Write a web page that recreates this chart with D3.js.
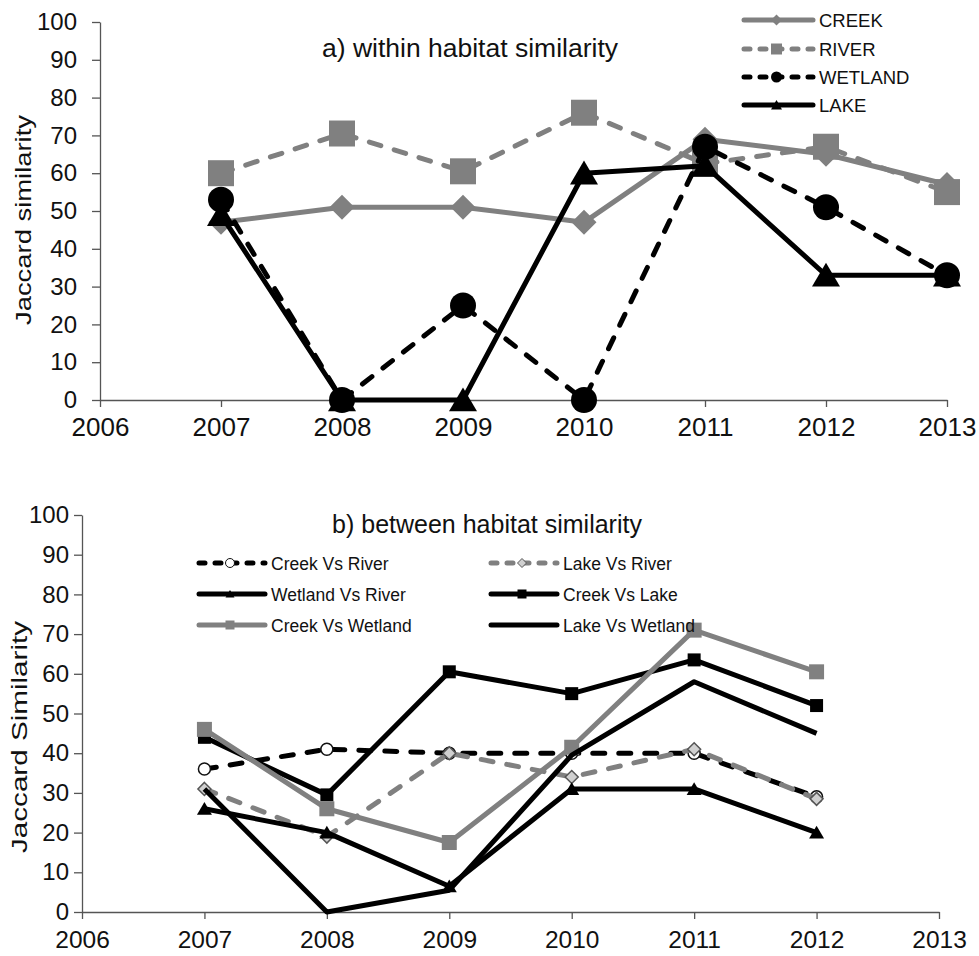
<!DOCTYPE html>
<html><head><meta charset="utf-8">
<script src="https://cdn.jsdelivr.net/npm/d3@7"></script>
<style>body{margin:0;background:#fff}svg{display:block}text{font-family:"Liberation Sans",Arial,sans-serif}</style>
</head><body><svg id="c" width="979" height="956"></svg>
<script>
// ---- data ----
const xTicks = [2006, 2007, 2008, 2009, 2010, 2011, 2012, 2013];
const yTicks = [0, 10, 20, 30, 40, 50, 60, 70, 80, 90, 100];
const yearsA = [2007, 2008, 2009, 2010, 2011, 2012, 2013];
const creek   = [47, 51, 51, 47, 69, 65, 57];
const river   = [60, 70.5, 60.5, 76, 62.5, 67, 55];
const wetland = [53, 0, 25, 0, 67, 51, 33];
const lake    = [49, 0, 0, 60, 62, 33, 33];
const yearsB = [2007, 2008, 2009, 2010, 2011, 2012];
const creekVsRiver    = [36, 41, 40, 40, 40, 29];
const lakeVsRiver     = [31, 19, 40, 34, 41, 28.5];
const wetlandVsRiver  = [26, 20, 6.5, 31, 31, 20];
const creekVsLake     = [44, 29.5, 60.5, 55, 63.5, 52];
const creekVsWetland  = [46, 26, 17.5, 41.5, 71, 60.5];
const lakeVsWetland   = [31, 0, 5.5, 39.5, 58, 45];
const titleA = "a) within habitat similarity";
const titleB = "b) between habitat similarity";
const yLabelA = "Jaccard similarity";
const yLabelB = "Jaccard Similarity";

const GRAY = "#808080", BLACK = "#000";
const svg = d3.select("#c");

function markerPath(kind, s) {
  const h = s / 2;
  if (kind === "diamond") return `M0,${-h}L${h},0L0,${h}L${-h},0Z`;
  if (kind === "square") return `M${-h},${-h}H${h}V${h}H${-h}Z`;
  if (kind === "triangle") return `M0,${-h*0.9}L${h},${h*0.8}L${-h},${h*0.8}Z`;
  if (kind === "circle") return d3.symbol(d3.symbolCircle, Math.PI * h * h)();
  return "";
}

function drawPanel(cfg) {
  const x = d3.scaleLinear().domain([2006, 2013]).range(cfg.xr);
  const y = d3.scaleLinear().domain([0, 100]).range(cfg.yr);
  const g = svg.append("g");
  // axes
  const ax = g.append("g").attr("transform", `translate(${cfg.xr[0]},0)`)
    .call(d3.axisLeft(y).tickValues(yTicks).tickSize(8).tickPadding(cfg.yPad).tickSizeOuter(0));
  const bx = g.append("g").attr("transform", `translate(0,${cfg.yr[0]})`)
    .call(d3.axisBottom(x).tickValues(xTicks).tickFormat(d3.format("d")).tickSize(7).tickPadding(cfg.xPad).tickSizeOuter(0));
  [[ax, 24], [bx, cfg.xfs]].forEach(([a, fs]) => {
    a.select(".domain").attr("stroke", "#555").attr("stroke-width", 1.3);
    a.selectAll(".tick line").attr("stroke", "#555").attr("stroke-width", 1.3);
    a.selectAll(".tick text").attr("font-size", fs).attr("fill", "#111")
      .style("font-family", '"Liberation Sans",Arial,sans-serif');
  });
  // title
  g.append("text").attr("x", cfg.title[0]).attr("y", cfg.title[1]).attr("text-anchor", "middle")
    .attr("font-size", cfg.title[2]).attr("fill", "#111").text(cfg.titleText);
  // y label
  g.append("text").attr("transform", `translate(${cfg.ylab[0]},${cfg.ylab[1]}) rotate(-90)`)
    .attr("text-anchor", "middle").attr("font-size", 22).attr("fill", "#111")
    .attr("textLength", cfg.ylab[2]).attr("lengthAdjust", "spacingAndGlyphs").text(cfg.ylabText);
  // series
  const line = d3.line();
  cfg.series.forEach(s => {
    const pts = s.values.map((v, i) => [x(s.years[i]), y(v)]);
    g.append("path").attr("d", line(pts)).attr("fill", "none")
      .attr("stroke", s.color).attr("stroke-width", s.width)
      .attr("stroke-dasharray", s.dash ? s.dash : null)
      .attr("stroke-linecap", s.dash ? "round" : "butt").attr("stroke-linejoin", "round");
    if (s.marker) {
      g.selectAll(null).data(pts).enter().append("path")
        .attr("d", markerPath(s.marker, s.msize))
        .attr("transform", d => `translate(${d[0]},${d[1]})`)
        .attr("fill", s.mfill).attr("stroke", s.mstroke || "none").attr("stroke-width", s.mstrokeW || 0);
    }
  });
  // legend
  cfg.legend.forEach((L, i) => {
    const s = cfg.series[L.idx];
    const lg = g.append("g");
    lg.append("line").attr("x1", L.x1).attr("x2", L.x2).attr("y1", L.y).attr("y2", L.y)
      .attr("stroke", s.color).attr("stroke-width", s.width)
      .attr("stroke-dasharray", s.dash ? s.legDash : null)
      .attr("stroke-linecap", "round");
    if (s.marker) {
      lg.append("path").attr("d", markerPath(s.marker, L.ms))
        .attr("transform", `translate(${(L.x1 + L.x2) / 2 - 2},${L.y})`)
        .attr("fill", s.mfill).attr("stroke", s.mstroke || "none").attr("stroke-width", s.mstrokeW ? 1 : 0);
    }
    lg.append("text").attr("x", L.x2 + 6).attr("y", L.y + 6.5).attr("font-size", L.fs)
      .attr("fill", "#111").text(s.name);
  });
}

// Panel a
drawPanel({
  xr: [100, 947], yr: [400, 22], yPad: 15, xPad: 11, xfs: 26,
  title: [470, 57, 26.5], titleText: titleA,
  ylab: [31, 220, 210], ylabText: yLabelA,
  series: [
    {name: "CREEK", years: yearsA, values: creek, color: GRAY, width: 5, marker: "diamond", msize: 25, mfill: GRAY},
    {name: "RIVER", years: yearsA, values: river, color: GRAY, width: 5, dash: "12,14", legDash: "6,10", marker: "square", msize: 26, mfill: GRAY},
    {name: "WETLAND", years: yearsA, values: wetland, color: BLACK, width: 5, dash: "12,14", legDash: "6,10", marker: "circle", msize: 26, mfill: BLACK},
    {name: "LAKE", years: yearsA, values: lake, color: BLACK, width: 5, marker: "triangle", msize: 28, mfill: BLACK}
  ],
  legend: [
    {idx: 0, x1: 744, x2: 813, y: 20, ms: 11, fs: 18.5},
    {idx: 1, x1: 744, x2: 813, y: 49, ms: 11, fs: 18.5},
    {idx: 2, x1: 744, x2: 813, y: 77, ms: 11, fs: 18.5},
    {idx: 3, x1: 744, x2: 813, y: 105, ms: 11, fs: 18.5}
  ]
});

// Panel b
drawPanel({
  xr: [82, 939], yr: [912, 515], yPad: 5, xPad: 12, xfs: 24.5,
  title: [487, 533, 25], titleText: titleB,
  ylab: [27, 737, 232], ylabText: yLabelB,
  series: [
    {name: "Creek Vs River", years: yearsB, values: creekVsRiver, color: BLACK, width: 5, dash: "12,14", legDash: "6,10", marker: "circle", msize: 12, mfill: "#fff", mstroke: "#111", mstrokeW: 1.5},
    {name: "Lake Vs River", years: yearsB, values: lakeVsRiver, color: GRAY, width: 5, dash: "12,14", legDash: "6,10", marker: "diamond", msize: 13, mfill: "#d0d0d0", mstroke: "#555", mstrokeW: 1.5},
    {name: "Wetland Vs River", years: yearsB, values: wetlandVsRiver, color: BLACK, width: 5, marker: "triangle", msize: 15, mfill: BLACK},
    {name: "Creek Vs Lake", years: yearsB, values: creekVsLake, color: BLACK, width: 5, marker: "square", msize: 13, mfill: BLACK},
    {name: "Creek Vs Wetland", years: yearsB, values: creekVsWetland, color: GRAY, width: 5, marker: "square", msize: 15, mfill: GRAY},
    {name: "Lake Vs Wetland", years: yearsB, values: lakeVsWetland, color: BLACK, width: 5}
  ],
  legend: [
    {idx: 0, x1: 199, x2: 265, y: 563, ms: 9, fs: 17.5},
    {idx: 1, x1: 491, x2: 557, y: 563, ms: 9, fs: 17.5},
    {idx: 2, x1: 199, x2: 265, y: 594, ms: 9, fs: 17.5},
    {idx: 3, x1: 491, x2: 557, y: 594, ms: 9, fs: 17.5},
    {idx: 4, x1: 199, x2: 265, y: 625, ms: 9, fs: 17.5},
    {idx: 5, x1: 491, x2: 557, y: 625, ms: 9, fs: 17.5}
  ]
});
</script></body></html>
